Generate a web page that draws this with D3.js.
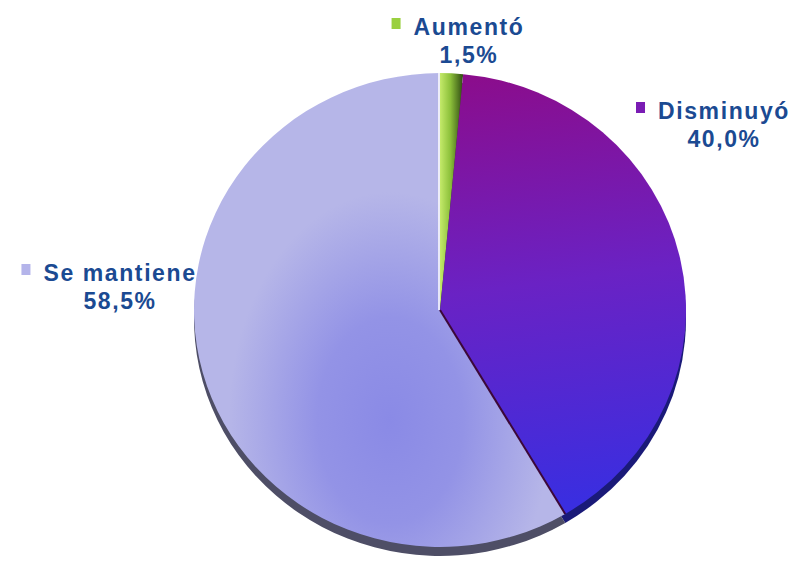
<!DOCTYPE html>
<html>
<head>
<meta charset="utf-8">
<script src="https://cdn.jsdelivr.net/npm/d3@7"></script>
<style>
  body { margin: 0; background: #fff; }
  svg { display: block; }
  .lbl { font-family: "Liberation Sans", Arial, sans-serif; font-weight: bold; font-size: 23px; letter-spacing: 1.6px; fill: #1b4a92; }
</style>
</head>
<body>
<div id="chart"></div>
<script>
(function() {
    const width = 800, height = 562;

    // data
    const categories = ["Aumentó", "Disminuyó", "Se mantiene"];
    const values = [1.5, 40.0, 58.5];
    const swatchColors = ["#9ad040", "#7a1cb4", "#b4b4ea"];

    // layout (label anchor = centre of the two text lines)
    const cx = 440, cy = 310, r = 246, squash = 0.963;
    const labelPos = [[469, 35], [724, 119], [120, 281]];
    const lineGap = 28;
    const shadowDy = 9;

    const svg = d3.select("#chart")
        .append("svg")
        .attr("width", width)
        .attr("height", height);

    const defs = svg.append("defs");

    // gradients for the slices
    const gA = defs.append("linearGradient").attr("id", "gA")
        .attr("x1", "0").attr("x2", "1").attr("y1", "0").attr("y2", "0");
    gA.append("stop").attr("offset", "0%").attr("stop-color", "#c4ea6a");
    gA.append("stop").attr("offset", "45%").attr("stop-color", "#8cc03a");
    gA.append("stop").attr("offset", "100%").attr("stop-color", "#2e4a12");

    const gD = defs.append("linearGradient").attr("id", "gD")
        .attr("gradientUnits", "userSpaceOnUse")
        .attr("x1", 0).attr("y1", -r).attr("x2", 60).attr("y2", r * 0.85);
    gD.append("stop").attr("offset", "0%").attr("stop-color", "#8c0c8a");
    gD.append("stop").attr("offset", "50%").attr("stop-color", "#6a22c4");
    gD.append("stop").attr("offset", "100%").attr("stop-color", "#3a2ee0");

    const gS = defs.append("radialGradient").attr("id", "gS")
        .attr("gradientUnits", "userSpaceOnUse")
        .attr("cx", -50).attr("cy", 115).attr("r", 190)
        .attr("gradientTransform", "translate(-50,115) scale(0.85,1.25) translate(50,-115)");
    gS.append("stop").attr("offset", "0%").attr("stop-color", "#8a8ae6");
    gS.append("stop").attr("offset", "45%").attr("stop-color", "#9393e6");
    gS.append("stop").attr("offset", "100%").attr("stop-color", "#b6b6e8");

    const fills = ["url(#gA)", "url(#gD)", "url(#gS)"];
    const shadowFills = ["#2e4a12", "#1a1a78", "#4e4e66"];

    const pie = d3.pie().sort(null).value(d => d);
    const arcs = pie(values);
    const arc = d3.arc().innerRadius(0).outerRadius(r);

    // shadow rim under the pie
    svg.append("g")
        .attr("transform", "translate(" + cx + "," + (cy + shadowDy) + ") scale(1," + squash + ")")
        .selectAll("path")
        .data(arcs)
        .enter()
        .append("path")
        .attr("d", arc)
        .attr("fill", (d, i) => shadowFills[i]);

    const g = svg.append("g")
        .attr("transform", "translate(" + cx + "," + cy + ") scale(1," + squash + ")");

    g.selectAll(".slice")
        .data(arcs)
        .enter()
        .append("path")
        .attr("class", "slice")
        .attr("d", arc)
        .attr("fill", (d, i) => fills[i]);

    // thin edges between slices
    const edge = a => [Math.sin(a) * r, -Math.cos(a) * r];
    g.append("line")
        .attr("x1", 0).attr("y1", 0)
        .attr("x2", edge(arcs[1].endAngle)[0]).attr("y2", edge(arcs[1].endAngle)[1])
        .attr("stroke", "#3c0838").attr("stroke-width", 2);
    g.append("line")
        .attr("x1", -1).attr("y1", 0)
        .attr("x2", -1).attr("y2", -r)
        .attr("stroke", "#ffffff").attr("stroke-width", 1.5);

    // labels
    const fmt = v => d3.format(".1f")(v).replace(".", ",") + "%";
    const labels = svg.selectAll(".label")
        .data(categories)
        .enter()
        .append("g")
        .attr("class", "label")
        .attr("transform", (d, i) => "translate(" + labelPos[i][0] + "," + labelPos[i][1] + ")");

    labels.append("text")
        .attr("class", "lbl")
        .attr("text-anchor", "middle")
        .attr("y", 0)
        .text(d => d);

    labels.append("text")
        .attr("class", "lbl")
        .attr("text-anchor", "middle")
        .attr("y", lineGap)
        .text((d, i) => fmt(values[i]));

    // legend swatches left of the category name
    labels.each(function(d, i) {
        const t = d3.select(this).select("text").node();
        const w = t.getComputedTextLength();
        d3.select(this).append("rect")
            .attr("x", -w / 2 - 22)
            .attr("y", -17)
            .attr("width", 9)
            .attr("height", 11)
            .attr("fill", swatchColors[i]);
    });
})();
</script>
</body>
</html>
